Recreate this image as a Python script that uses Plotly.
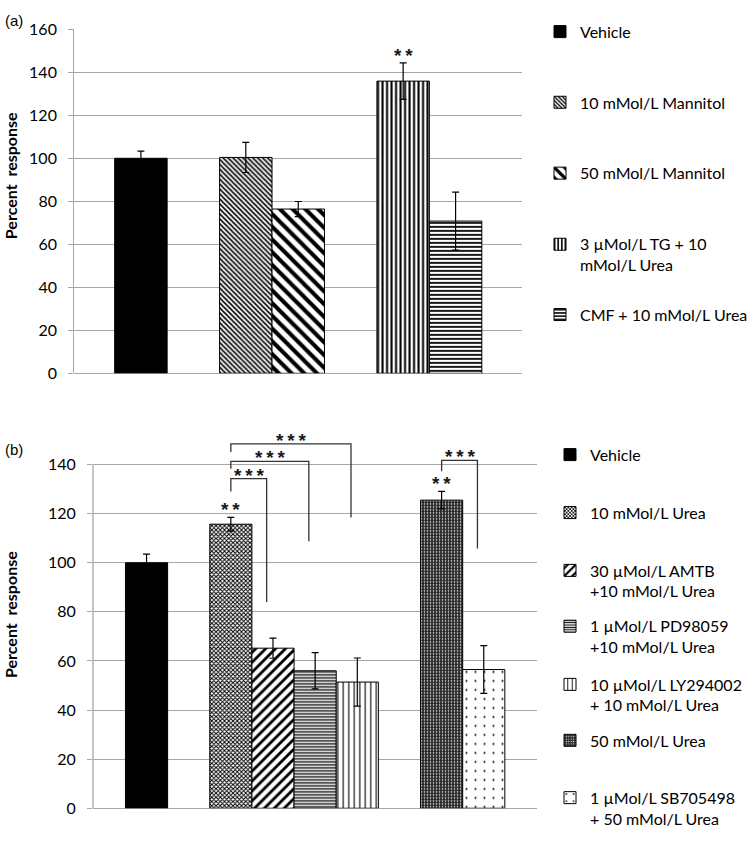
import plotly.graph_objects as go

# ---------------- data ----------------
# Panel (a)
a_labels = ["Vehicle", "10 mMol/L Mannitol", "50 mMol/L Mannitol",
            "3 µMol/L TG + 10<br>mMol/L Urea", "CMF + 10 mMol/L Urea"]
a_values = [100.0, 100.4, 76.4, 135.9, 70.8]
a_errors = [3.3, 7.0, 3.5, 8.5, 13.5]
a_groups = [0, 1, 1, 2, 2]
a_sig = {3: "*\u2009*"}

# Panel (b)
b_labels = ["Vehicle", "10 mMol/L Urea", "30 µMol/L AMTB<br>+10 mMol/L Urea",
            "1 µMol/L PD98059<br>+10 mMol/L Urea", "10 µMol/L LY294002<br>+ 10 mMol/L Urea",
            "50 mMol/L Urea", "1 µMol/L SB705498<br>+ 50 mMol/L Urea"]
b_values = [100.0, 115.7, 65.2, 56.0, 51.4, 125.5, 56.5]
b_errors = [3.5, 2.8, 4.1, 7.4, 9.8, 3.6, 9.7]
b_groups = [0, 1, 1, 1, 1, 2, 2]
b_sig = {1: "*\u2009*", 5: "*\u2009*"}
# (from bar, to bar, start level, top level, end level)
b_brackets = [(1, 2, 129.0, 134.3, 84.0),
              (1, 3, 138.3, 141.3, 108.8),
              (1, 4, 145.1, 148.4, 118.4),
              (5, 6, 137.3, 141.7, 105.8)]
b_bracket_text = "*\u2009*\u2009*"

a_ticks = [0, 20, 40, 60, 80, 100, 120, 140, 160]
b_ticks = [0, 20, 40, 60, 80, 100, 120, 140]

# ---------------- styles ----------------
W, H = 755, 841
GRID = "#a6a6a6"
FONT = "Lato, Carlito, Calibri, sans-serif"
STAR_FONT = dict(family="Liberation Sans, Arial", size=19, color="#1a1a1a", weight="bold")

def solid(c):
    return dict(color=c, line=dict(color="black", width=1))

def pat(shape, size, sol, fg="black", bg="white"):
    return dict(color=bg, line=dict(color="black", width=1),
                pattern=dict(shape=shape, size=size, solidity=sol,
                             fgcolor=fg, bgcolor=bg, fillmode="replace"))

a_styles = [solid("black"),
            pat("\\", 3.5, 0.45),
            pat("\\", 9, 0.45),
            pat("|", 4.5, 0.45),
            pat("-", 4, 0.45)]
b_styles = [solid("black"),
            pat("x", 3, 0.55),
            pat("/", 7, 0.4),
            pat("-", 3, 0.45),
            pat("|", 5.5, 0.2),
            pat(".", 3, 0.2, fg="white", bg="#2a2a2a"),
            pat(".", 9, 0.04)]

# legend text centres (px from top)
a_leg_y = [22.2, 94.5, 167, 250.5, 311.7]
b_leg_y = [455, 514.3, 584.2, 641.3, 700.8, 747.3, 816.7]
a_leg_x = 540
b_leg_x = 550

def positions(groups):
    return [i + g for i, g in enumerate(groups)]

a_pos = positions(a_groups)
b_pos = positions(b_groups)

fig = go.Figure()
legends = {}
n = 0

def add_panel(labels, values, errors, pos, styles, xa, ya, leg_x, leg_y):
    global n
    for i in range(len(values)):
        n += 1
        lname = "legend" if n == 1 else f"legend{n}"
        fig.add_trace(go.Bar(
            x=[pos[i]], y=[values[i]], width=1, name=labels[i],
            marker=styles[i], xaxis=xa, yaxis=ya, legend=lname,
            error_y=dict(type="data", array=[errors[i]], color="black",
                         thickness=1.2, width=3.5),
        ))
        legends[lname] = dict(
            x=leg_x / W, xanchor="left", xref="paper",
            y=1 - leg_y[i] / H, yanchor="middle", yref="paper",
            valign="top", bgcolor="rgba(0,0,0,0)", borderwidth=0,
            font=dict(family=FONT, size=16, color="black"),
        )

add_panel(a_labels, a_values, a_errors, a_pos, a_styles, "x", "y", a_leg_x, a_leg_y)
add_panel(b_labels, b_values, b_errors, b_pos, b_styles, "x2", "y2", b_leg_x, b_leg_y)

yaxis_common = dict(
    showgrid=True, gridcolor=GRID, gridwidth=1.3,
    zeroline=True, zerolinecolor=GRID, zerolinewidth=1.3,
    ticks="outside", ticklen=5, tickcolor=GRID, tickwidth=1.3,
    tickfont=dict(family=FONT, size=16, color="black"),
    ticklabelstandoff=8, fixedrange=True,
)

fig.update_layout(
    width=W, height=H, margin=dict(l=0, r=0, t=0, b=0),
    paper_bgcolor="white", plot_bgcolor="white",
    barmode="overlay", showlegend=True,
    xaxis=dict(domain=[74.3 / W, 522.2 / W], range=[-1.27, 7.27], visible=False,
               anchor="y", fixedrange=True),
    yaxis=dict(domain=[1 - 371.7 / H, 1 - 19.3 / H], range=[0, 160.2], tickvals=a_ticks,
               anchor="x", showline=True, linecolor=GRID, linewidth=1.3, **yaxis_common),
    xaxis2=dict(domain=[93 / W, 537.3 / W], range=[-1.27, 9.27], visible=False,
                anchor="y2", fixedrange=True),
    yaxis2=dict(domain=[1 - 816.7 / H, 1 - 414.8 / H], range=[0, 160], tickvals=b_ticks,
                anchor="x2", showline=False, **yaxis_common),
    **legends,
)

shapes = [dict(type="line", xref="x2 domain", yref="y2", x0=0, x1=0, y0=0, y1=140,
               line=dict(color=GRID, width=1.3))]
annotations = []

def sig_marks(sig, pos, values, errors, xr, yr):
    for i, txt in sig.items():
        annotations.append(dict(x=pos[i], y=values[i] + errors[i], xref=xr, yref=yr,
                                text=txt, showarrow=False, yanchor="bottom", yshift=-5,
                                font=STAR_FONT))

sig_marks(a_sig, a_pos, a_values, a_errors, "x", "y")
sig_marks(b_sig, b_pos, b_values, b_errors, "x2", "y2")

for f, t, ys, yt, ye in b_brackets:
    x0 = b_pos[f]
    x1 = b_pos[t] - 0.15
    shapes.append(dict(type="path", xref="x2", yref="y2",
                       path=f"M {x0},{ys} L {x0},{yt} L {x1},{yt} L {x1},{ye}",
                       line=dict(color="#333333", width=1.3)))
    annotations.append(dict(x=(x0 + x1) / 2, y=yt, xref="x2", yref="y2",
                            text=b_bracket_text, showarrow=False, yanchor="bottom", yshift=-9,
                            font=STAR_FONT))

# axis titles
for yc in (170, 619):
    annotations.append(dict(x=10 / W, y=1 - yc / H, xref="paper", yref="paper",
                            text="<b>Percent\u00a0 response</b>", textangle=-90,
                            showarrow=False, xanchor="center", yanchor="middle",
                            font=dict(family=FONT, size=16, color="black")))
# panel labels
for txt, yc in (("(a)", 11), ("(b)", 450)):
    annotations.append(dict(x=3 / W, y=1 - yc / H, xref="paper", yref="paper",
                            text=txt, showarrow=False, xanchor="left", yanchor="middle",
                            font=dict(family="Liberation Sans, Arial", size=15, color="black")))

fig.update_layout(shapes=shapes, annotations=annotations)
fig.write_html("out.html", config={"displayModeBar": False},
               post_script="document.body.style.margin='0px';document.body.style.overflow='hidden';")
